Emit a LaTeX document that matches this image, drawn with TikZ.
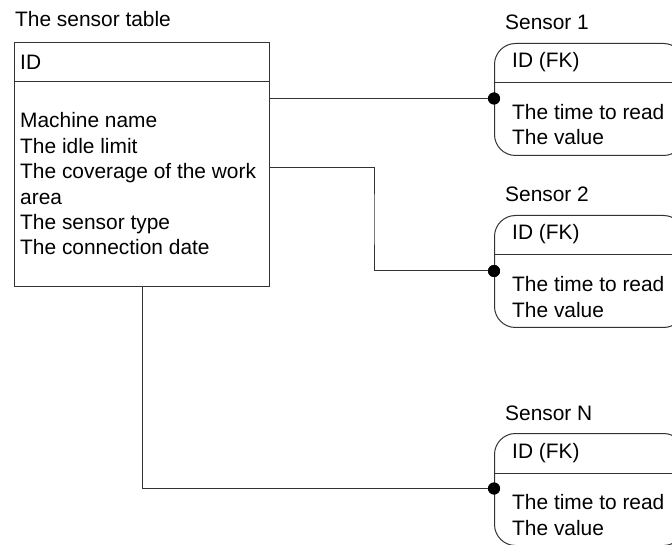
\documentclass[tikz,border=0pt]{standalone}
\usepackage{fontspec}
\setmainfont{Liberation Sans}
\begin{document}
\begin{tikzpicture}[x=1pt,y=-1pt,
  txt/.style={anchor=base west, inner sep=0pt, font=\fontsize{20.9}{25.4}\selectfont},
  ln/.style={draw=black!80, line width=1pt},
  tablebox/.style={ln, rectangle, inner sep=0pt, anchor=north west, minimum width=255pt, minimum height=244pt},
  sensorbox/.style={ln, rectangle, rounded corners=21pt, inner sep=0pt, anchor=north west, minimum width=190pt, minimum height=112pt},
  dotc/.style={circle, fill=black, inner sep=0pt, minimum size=12pt}]
\useasboundingbox (0,0) rectangle (672,545);
\clip (0,0) rectangle (672,545);
\fill[white] (0,0) rectangle (672,545);

% main table
\node[txt] (ttl) at (15,27) {The sensor table};
\node[tablebox] (main) at (14,42) {};
\draw[ln] (14,82) -- (269,82);
\node[txt] (mid) at (20,69.5) {ID};
\node[txt] (f1) at (20,128) {Machine name};
\node[txt] (f2) at (20,153.4) {The idle limit};
\node[txt] (f3) at (20,178.8) {The coverage of the work};
\node[txt] (f4) at (20,204.2) {area};
\node[txt] (f5) at (20,229.6) {The sensor type};
\node[txt] (f6) at (20,255) {The connection date};

% sensor 1
\node[txt] (t1) at (505,30) {Sensor 1};
\node[sensorbox] (s1) at (494,43) {};
\draw[ln] (494,83) -- (684,83);
\node[txt] (s1a) at (512,68) {ID (FK)};
\node[txt] (s1b) at (512,119.5) {The time to read};
\node[txt] (s1c) at (512,145) {The value};

% sensor 2
\node[txt] (t2) at (505,202) {Sensor 2};
\node[sensorbox] (s2) at (494,215) {};
\draw[ln] (494,255) -- (684,255);
\node[txt] (s2a) at (512,240) {ID (FK)};
\node[txt] (s2b) at (512,291.5) {The time to read};
\node[txt] (s2c) at (512,317) {The value};

% sensor N
\node[txt] (t3) at (505,420) {Sensor N};
\node[sensorbox] (s3) at (494,433) {};
\draw[ln] (494,473) -- (684,473);
\node[txt] (s3a) at (512,458) {ID (FK)};
\node[txt] (s3b) at (512,509.5) {The time to read};
\node[txt] (s3c) at (512,535) {The value};

% connectors
\node[dotc] (d1) at (494,98.5) {};
\node[dotc] (d2) at (494,271) {};
\node[dotc] (d3) at (494,488.5) {};
\coordinate (m2) at (269,168);
\coordinate (k2) at (374,220);
\draw[ln] (main.east |- d1) -- (d1.center);
\draw[ln] (m2) -| (k2) |- (d2.center);
\draw[ln] (main.south) |- (d3.center);
\fill (d1) circle (6pt);
\fill (d2) circle (6pt);
\fill (d3) circle (6pt);
\end{tikzpicture}
\end{document}
